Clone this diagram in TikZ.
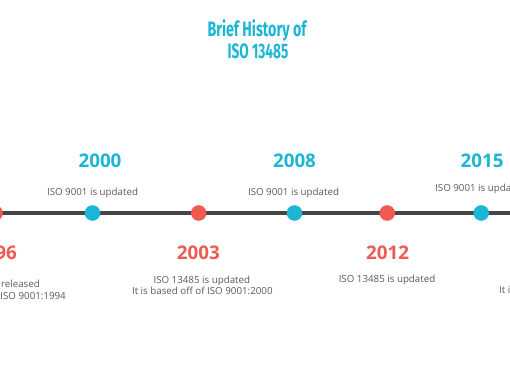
\documentclass[tikz,border=0pt]{standalone}
\usepackage{fontspec}
\usepackage{graphicx}
\setmainfont{Open Sans}
\newfontfamily\titlefont{Fira Sans}
\definecolor{tlblue}{HTML}{1BB6D6}
\definecolor{tlred}{HTML}{F05A50}
\definecolor{tlline}{HTML}{454545}
\definecolor{tltext}{HTML}{5A5A5A}
\tikzset{
  dotblue/.style={circle,fill=tlblue,inner sep=0pt,minimum size=15.6pt},
  dotred/.style={circle,fill=tlred,inner sep=0pt,minimum size=15.6pt},
  yearblue/.style={inner sep=0pt,anchor=base,text=tlblue,font=\fontsize{18.8}{20}\selectfont\bfseries},
  yearred/.style={inner sep=0pt,anchor=base,text=tlred,font=\fontsize{18.8}{20}\selectfont\bfseries},
  desc/.style={inner sep=0pt,anchor=base,text=tltext,font=\fontsize{9.75}{11}\selectfont},
  titletext/.style={inner sep=0pt,anchor=base,text=tlblue,font=\titlefont\fontsize{20.9}{22}\selectfont\bfseries},
  timeline/.style={draw=tlline,line width=4.5pt}
}
\begin{document}
\begin{tikzpicture}[x=1pt,y=-1pt]
\useasboundingbox (0,0) rectangle (510,382);
\clip (0,0) rectangle (510,382);
\fill[white] (0,0) rectangle (510,382);
% title
\node[titletext] (t1) at (257,36.7) {\resizebox{99pt}{\height}{Brief History of}};
\node[titletext] (t2) at (258,58.3) {\resizebox{60.7pt}{\height}{ISO 13485}};
% timeline
\coordinate (L) at (-10,213);
\coordinate (R) at (520,213);
\draw[timeline] (L) -- (R);
% dots
\node[dotred]  (d1996) at (-5,213) {};
\node[dotblue] (d2000) at (92.5,213) {};
\node[dotred]  (d2003) at (198.7,213) {};
\node[dotblue] (d2008) at (294.5,213) {};
\node[dotred]  (d2012) at (387.2,213) {};
\node[dotblue] (d2015) at (481.2,213) {};
% years
\node[yearred]  (y1996) at (-4.6,259) {1996};
\node[yearblue] (y2000) at (100,167) {2000};
\node[yearred]  (y2003) at (198.4,259) {2003};
\node[yearblue] (y2008) at (294.5,167) {2008};
\node[yearred]  (y2012) at (387.5,259) {2012};
\node[yearblue] (y2015) at (482,167) {2015};
% descriptions
\node[desc,anchor=base east] (a1996) at (40,287.5) {ISO 13485 is released};
\node[desc,anchor=base east] (b1996) at (66,299.5) {It is based off of ISO 9001:1994};
\node[desc] (a2000) at (92.5,195.2) {ISO 9001 is updated};
\node[desc] (a2003) at (201.8,283) {ISO 13485 is updated};
\node[desc] (b2003) at (202.3,294.5) {It is based off of ISO 9001:2000};
\node[desc] (a2008) at (293.5,195.2) {ISO 9001 is updated};
\node[desc] (a2012) at (387,282.5) {ISO 13485 is updated};
\node[desc,anchor=base west] (a2015) at (435,191) {ISO 9001 is updated};
\node[desc,anchor=base west] (b2016) at (499,293.5) {It is based off of ISO 9001:2015};
\end{tikzpicture}
\end{document}
